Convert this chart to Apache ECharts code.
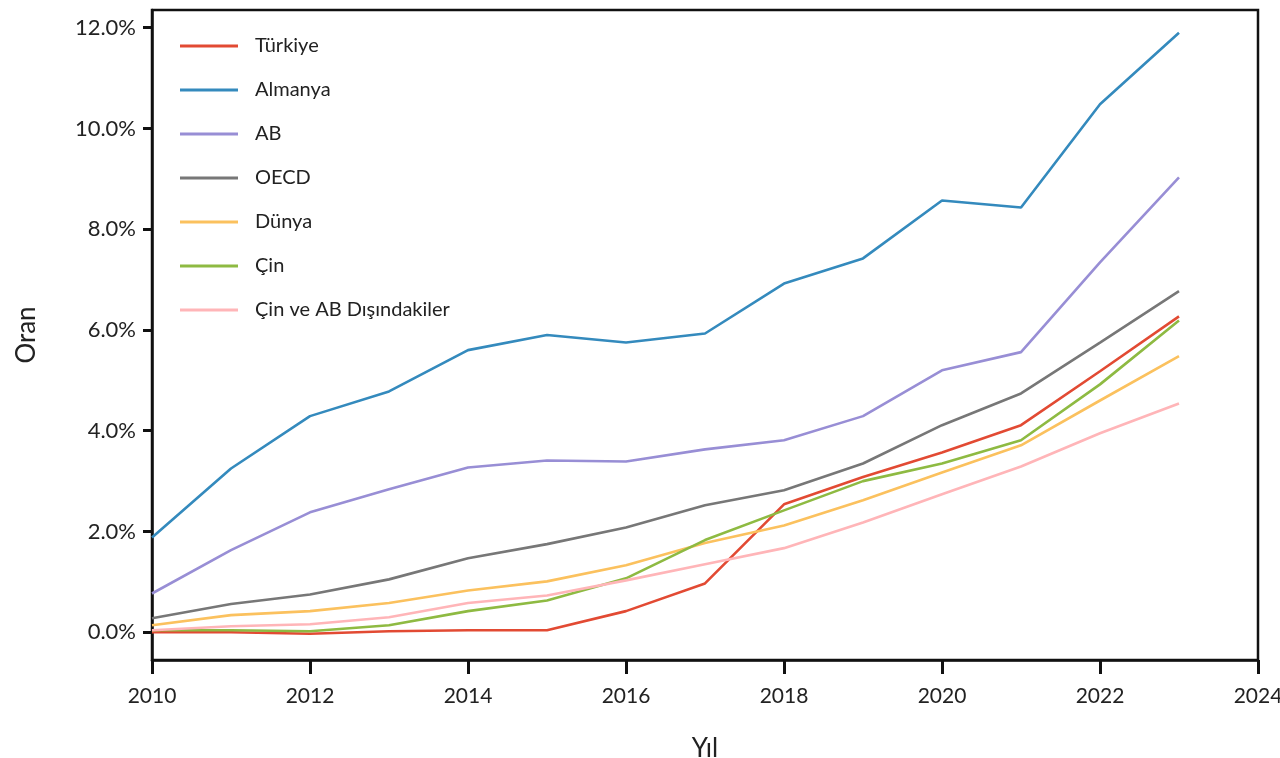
<!DOCTYPE html>
<html>
<head>
<meta charset="utf-8">
<script src="https://cdn.jsdelivr.net/npm/echarts@6/dist/echarts.min.js"></script>
<style>
    html, body { margin: 0; padding: 0; background: #fff; }
    #chart { width: 1280px; height: 758px; }
</style>
</head>
<body>
<div id="chart"></div>
<script>
    // yillar (x ekseni)
    var years = [2010, 2011, 2012, 2013, 2014, 2015, 2016, 2017, 2018, 2019, 2020, 2021, 2022, 2023];
    var xTicks = [2010, 2012, 2014, 2016, 2018, 2020, 2022, 2024];
    var yTicks = [0, 2, 4, 6, 8, 10, 12];

    // oranlar (%)
    var turkiye  = [0.00, 0.00, -0.03, 0.02, 0.04, 0.04, 0.42, 0.97, 2.54, 3.08, 3.57, 4.11, 5.18, 6.27];
    var almanya  = [1.88, 3.25, 4.29, 4.78, 5.60, 5.90, 5.75, 5.93, 6.92, 7.42, 8.57, 8.43, 10.48, 11.90];
    var ab       = [0.77, 1.63, 2.38, 2.84, 3.27, 3.41, 3.39, 3.63, 3.81, 4.29, 5.20, 5.56, 7.34, 9.03];
    var oecd     = [0.28, 0.56, 0.75, 1.05, 1.47, 1.75, 2.08, 2.52, 2.82, 3.35, 4.11, 4.74, 5.75, 6.77];
    var dunya    = [0.14, 0.34, 0.42, 0.58, 0.83, 1.01, 1.33, 1.77, 2.12, 2.62, 3.17, 3.71, 4.60, 5.48];
    var cin      = [0.04, 0.04, 0.02, 0.14, 0.42, 0.63, 1.07, 1.83, 2.42, 3.00, 3.35, 3.81, 4.92, 6.19];
    var digerleri = [0.04, 0.12, 0.16, 0.30, 0.58, 0.73, 1.03, 1.35, 1.67, 2.18, 2.74, 3.29, 3.95, 4.54];

    var names  = ['Türkiye', 'Almanya', 'AB', 'OECD', 'Dünya', 'Çin', 'Çin ve AB Dışındakiler'];
    var values = [turkiye, almanya, ab, oecd, dunya, cin, digerleri];
    var colors = ['#E24A33', '#348ABD', '#988ED5', '#777777', '#FBC15E', '#8EBA42', '#FFB5B8'];

    var font = 'Lato';

    var series = names.map(function (n, i) {
        return {
            name: n,
            type: 'line',
            symbol: 'none',
            lineStyle: { color: colors[i], width: 2.6 },
            itemStyle: { color: colors[i] },
            data: years.map(function (y, j) { return [y, values[i][j]]; })
        };
    });

    var myChart = echarts.init(document.getElementById('chart'));
    var option = {
        animation: false,
        backgroundColor: '#fff',
        grid: {
            left: 152,
            right: 22,
            top: 10,
            bottom: 98,
            outerBoundsMode: 'none',
            show: true,
            borderColor: '#111',
            borderWidth: 2.5
        },
        legend: {
            orient: 'vertical',
            left: 175,
            top: 30,
            icon: 'rect',
            itemWidth: 58,
            itemHeight: 3,
            itemGap: 22,
            textStyle: { fontFamily: font, fontSize: 20, color: '#222', lineHeight: 22, padding: [0, 0, 0, 12] },
            data: names
        },
        xAxis: {
            type: 'value',
            min: 2010,
            max: 2024,
            interval: 2,
            name: 'Yıl',
            nameLocation: 'middle',
            nameGap: 76,
            nameTextStyle: { fontFamily: font, fontSize: 26, color: '#222' },
            axisLine: { onZero: false, lineStyle: { color: '#111', width: 2.5 } },
            axisTick: { show: true, inside: false, length: 14, lineStyle: { color: '#111', width: 3 } },
            axisLabel: {
                fontFamily: font, fontSize: 21, color: '#222', margin: 26,
                formatter: function (v) { return String(v); }
            },
            splitLine: { show: false }
        },
        yAxis: {
            type: 'value',
            min: -0.55,
            max: 12.35,
            name: 'Oran',
            nameLocation: 'middle',
            nameGap: 112,
            nameRotate: 90,
            nameTextStyle: { fontFamily: font, fontSize: 26, color: '#222' },
            axisLine: { show: true, lineStyle: { color: '#111', width: 2.5 } },
            axisTick: { show: true, inside: false, length: 9, lineStyle: { color: '#111', width: 3 }, customValues: yTicks },
            axisLabel: {
                fontFamily: font, fontSize: 22, color: '#222', margin: 16,
                customValues: yTicks,
                formatter: function (v) { return v.toFixed(1) + '%'; }
            },
            splitLine: { show: false }
        },
        series: series
    };
    myChart.setOption(option);
</script>
</body>
</html>
